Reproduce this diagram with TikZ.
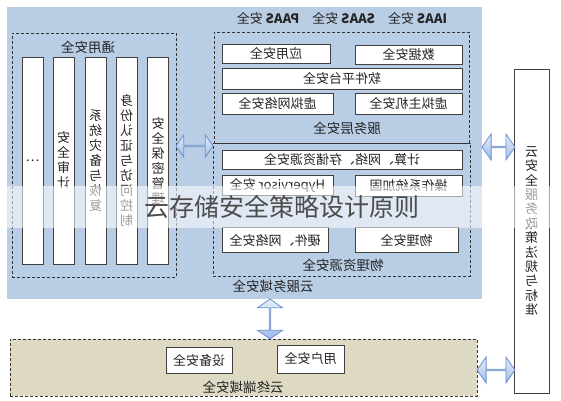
\documentclass[tikz,border=0pt]{standalone}
\usepackage{fontspec}
\setmainfont{Noto Sans CJK SC}
\usetikzlibrary{shapes.arrows,calc}
\definecolor{svcblue}{HTML}{B9CDE5}
\definecolor{termbeige}{HTML}{DDD9C3}
\definecolor{arrowline}{HTML}{6E90CC}
\definecolor{arrowtop}{HTML}{E6EEF9}
\definecolor{arrowbot}{HTML}{9DBBE8}
\definecolor{labeltext}{HTML}{262626}
\tikzset{
  mir/.style={xscale=-1},
  secbox/.style={draw=black!75, fill=white, line width=0.6pt, inner sep=0pt, mir,
    font=\fontsize{13}{15}\selectfont, text=labeltext},
  barbox/.style={secbox, align=center, minimum width=21pt, minimum height=207pt},
  zone/.style={draw=black!80, dash pattern=on 3pt off 2pt, line width=0.7pt, inner sep=0pt},
  zonelabel/.style={mir, inner sep=0pt, font=\fontsize{13.5}{15}\selectfont, text=labeltext},
  dblarrow/.style={double arrow, draw=arrowline, line width=0.8pt, inner sep=0pt,
    top color=arrowtop, bottom color=arrowbot, double arrow head extend=6pt,
    double arrow tip angle=110}
}
\begin{document}
\begin{tikzpicture}[x=1pt, y=-1pt]
\useasboundingbox (0,0) rectangle (561,400);

%domains

\node[fill=svcblue, inner sep=0pt, minimum width=475pt, minimum height=292pt] (cloudsvc) at (244.5,153) {};
\node[zone, fill=termbeige, minimum width=467pt, minimum height=57pt] (terminal) at (243.5,367.5) {};
\node[secbox, align=center, minimum width=35pt, minimum height=324pt, font=\fontsize{13}{14.4}\selectfont] (policy) at (531.5,231)
  {云\\安\\全\\服\\务\\政\\策\\法\\规\\与\\标\\准};

%general security (left)

\node[zone, minimum width=164pt, minimum height=244pt] (general) at (94,155) {};
\node[zonelabel] (generallbl) at (88,47) {通用安全};
\node[barbox] (bar1) at (33,160.5) {…};
\node[barbox] (bar2) at (63.5,160.5) {安\\全\\审\\计};
\node[barbox] (bar3) at (95.5,160.5) {系\\统\\灾\\备\\与\\恢\\复};
\node[barbox] (bar4) at (126.5,160.5) {身\\份\\认\\证\\与\\访\\问\\控\\制};
\node[barbox] (bar5) at (158,160.5) {安\\全\\保\\密\\管\\理};

%service layer (right top)

\node[zonelabel, font=\fontsize{13}{15}\selectfont] (aaslbl) at (342,18) {\textbf{IAAS} 安全\quad\textbf{SAAS} 安全\quad\textbf{PAAS} 安全};
\node[zone, minimum width=255pt, minimum height=111pt] (svclayer) at (341.5,87.5) {};
\node[secbox, minimum width=108pt, minimum height=19pt] (appsec) at (276,53.5) {应用安全};
\node[secbox, minimum width=107pt, minimum height=19pt] (datasec) at (408.5,54.5) {数据安全};
\node[secbox, minimum width=240pt, minimum height=21pt] (swsec) at (342,78.5) {软件平台安全};
\node[secbox, minimum width=111pt, minimum height=21pt] (vnetsec) at (277.5,103.5) {虚拟网络安全};
\node[secbox, minimum width=107pt, minimum height=21pt] (vhostsec) at (408.5,103.5) {虚拟主机安全};
\node[zonelabel] (svclbl) at (347,128) {服务层安全};

%physical resources (right bottom)

\node[zone, minimum width=257pt, minimum height=133pt] (physres) at (341.5,209.5) {};
\node[secbox, minimum width=240pt, minimum height=19pt] (ressec) at (342,159.5) {计算、网络、存储资源安全};
\node[secbox, minimum width=111pt, minimum height=20pt] (hvsec) at (277.5,185) {Hypervisor 安全};
\node[secbox, minimum width=107pt, minimum height=21pt] (ossec) at (408.5,185.5) {操作系统加固};
\node[secbox, minimum width=106pt, minimum height=25pt] (hwsec) at (275,240) {硬件、网络安全};
\node[secbox, minimum width=103pt, minimum height=25pt] (physsec) at (406.5,240) {物理安全};
\node[zonelabel] (physlbl) at (343,265) {物理资源安全};
\node[zonelabel] (cloudsvclbl) at (273,286) {云服务域安全};

%terminal domain

\node[secbox, minimum width=66pt, minimum height=26pt] (devsec) at (199,360) {设备安全};
\node[secbox, minimum width=67pt, minimum height=28pt] (usersec) at (310.5,359) {用户安全};
\node[zonelabel] (termlbl) at (243,387) {云终端域安全};

%connectors

\coordinate (genE) at (176,146);
\coordinate (resW) at (213,146);
\coordinate (svcE) at (482,147);
\coordinate (polW) at (515,147);
\coordinate (svcS) at (270,299);
\coordinate (termN) at (270,339);
\coordinate (termE) at (477,370);
\coordinate (polW2) at (515,370);
\node[dblarrow, minimum width=22pt, minimum height=37pt] (lnkA) at ($(genE)!.5!(resW)$) {};
\node[dblarrow, minimum width=26pt, minimum height=33pt] (lnkB) at ($(svcE)!.5!(polW)$) {};
\node[dblarrow, minimum width=25pt, minimum height=40pt, rotate=90] (lnkC) at ($(svcS)!.5!(termN)$) {};
\node[dblarrow, minimum width=26pt, minimum height=38pt] (lnkD) at ($(termE)!.5!(polW2)$) {};

%caption band

\fill[white, fill opacity=0.55] (0,186) rectangle (561,228);
\node[font=\fontsize{25}{30}\selectfont, text=black!70] (caption) at (282,207) {云存储安全策略设计原则};
\end{tikzpicture}
\end{document}
